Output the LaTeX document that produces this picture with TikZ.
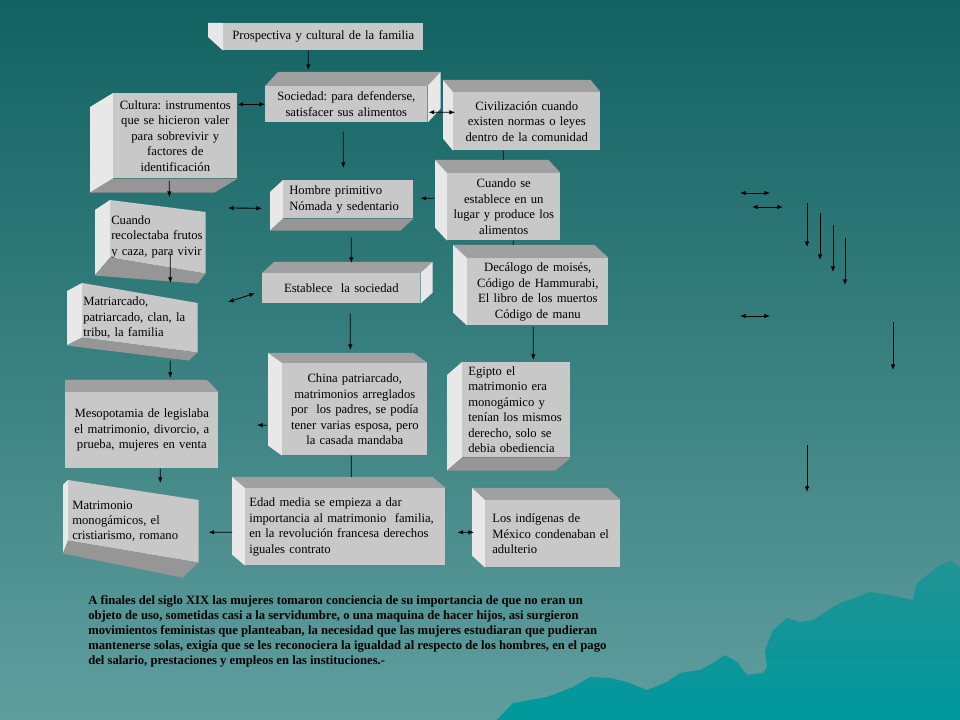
\documentclass[tikz,border=0pt]{standalone}
\usepackage{fontspec}
\setmainfont{Liberation Serif}
\usetikzlibrary{arrows.meta}
\frenchspacing
\hyphenpenalty=10000

\definecolor{bgtop}{RGB}{18,98,98}
\definecolor{bgbot}{RGB}{96,158,158}
\definecolor{frontgray}{RGB}{200,200,200}
\definecolor{topgray}{RGB}{160,160,160}
\definecolor{sidegray}{RGB}{232,232,232}
\definecolor{botgray}{RGB}{150,150,150}
\definecolor{hilltop}{RGB}{32,148,148}
\definecolor{hillbot}{RGB}{0,152,156}

\pgfdeclarelayer{back}
\pgfdeclarelayer{faces}
\pgfsetlayers{back,faces,main}

% sides of the 3D boxes
\newcommand{\topside}[3]{\fill[topgray] (#1.north west) -- ++(#2,#3) -- ([shift={(#2,#3)}]#1.north east) -- (#1.north east) -- cycle;}
\newcommand{\botside}[3]{\fill[botgray] (#1.south west) -- ++(#2,#3) -- ([shift={(#2,#3)}]#1.south east) -- (#1.south east) -- cycle;}
\newcommand{\leftside}[3]{\fill[sidegray] (#1.north west) -- ++(#2,#3) -- ([shift={(#2,#3)}]#1.south west) -- (#1.south west) -- cycle;}
\newcommand{\rightside}[3]{\fill[sidegray] (#1.north east) -- ++(#2,#3) -- ([shift={(#2,#3)}]#1.south east) -- (#1.south east) -- cycle;}

\begin{document}
\begin{tikzpicture}[
    x=0.025cm, y=-0.025cm,
    box/.style={fill=frontgray, anchor=north west, inner xsep=0.075cm, inner ysep=0pt, align=center, font=\fontsize{9}{11}\selectfont},
    lbox/.style={box, align=left},
    note/.style={anchor=north west, align=left, inner sep=0pt, font=\bfseries\fontsize{9}{10.7}\selectfont},
    arrow/.style={-{Latex[length=4pt,width=3.2pt]}, line width=0.6pt},
    both/.style={{Latex[length=4pt,width=3.2pt]}-{Latex[length=4pt,width=3.2pt]}, line width=0.6pt},
    link/.style={line width=0.6pt},
]
    \useasboundingbox (0,0) rectangle (960,720);

    % background and hills
    \begin{pgfonlayer}{back}
        \shade[top color=bgtop, bottom color=bgbot] (0,0) rectangle (960,720);
        \shade[top color=hilltop, bottom color=hillbot] (497,720) -- (513,703) -- (547,697) -- (573,687) -- (590,677) -- (610,678) -- (627,682) -- (647,690) -- (667,682) -- (680,673) -- (700,670) -- (713,663) -- (725,655) -- (737,662) -- (747,675) -- (763,673) -- (767,667) -- (765,650) -- (773,630) -- (787,618) -- (800,622) -- (813,620) -- (833,607) -- (843,602) -- (870,592) -- (890,595) -- (913,600) -- (917,583) -- (940,565) -- (950,561) -- (960,567) -- (960,720) -- cycle;
    \end{pgfonlayer}

    \node[box, text width=4.85cm, minimum height=0.675cm] (prosp) at (223,23) {Prospectiva y cultural de la familia};
    \node[box, text width=3.9cm, minimum height=0.9cm] (soc) at (265,86) {Sociedad: para defenderse,\\ satisfacer sus alimentos};
    \node[box, text width=2.95cm, minimum height=2.125cm] (cult) at (113,93) {Cultura: instrumentos\\ que se hicieron valer\\ para sobrevivir y\\ factores de\\ identificación};
    \node[box, text width=3.525cm, minimum height=1.45cm] (civ) at (453,92) {Civilización cuando\\ existen normas o leyes\\ dentro de la comunidad};
    \node[lbox, inner xsep=0.15cm, text width=2.95cm, minimum height=0.95cm] (hom) at (283,180) {Hombre primitivo\\ Nómada y sedentario};
    \node[box, text width=2.675cm, minimum height=1.675cm] (lugar) at (447,173) {Cuando se\\ establece en un\\ lugar y produce los\\ alimentos};
    \node[lbox, fill=none, inner xsep=0.025cm, text width=2.325cm, minimum height=1.825cm] (rec) at (110,200) {Cuando\\ recolectaba frutos\\ y caza, para vivir};
    \node[lbox, fill=none, inner xsep=0.025cm, text width=2.825cm, minimum height=1.725cm] (mat) at (82,283) {Matriarcado,\\ patriarcado, clan, la\\ tribu, la familia};
    \node[box, text width=3.375cm, minimum height=1.675cm] (dec) at (467,258) {Decálogo de moisés,\\ Código de Hammurabi,\\ El libro de los muertos\\ Código de manu};
    \node[box, text width=3.8cm, minimum height=0.75cm] (establece) at (262,273) {Establece\ \ la sociedad};
    \node[box, text width=3.475cm, minimum height=2.3cm] (china) at (282,363) {China patriarcado,\\ matrimonios arreglados\\ por\ \ los padres, se podía\\ tener varias esposa, pero\\ la casada mandaba};
    \node[lbox, inner xsep=0.15cm, text width=2.4cm, minimum height=2.375cm] (egipto) at (462,362) {Egipto el\\ matrimonio era\\ monogámico y\\ tenían los mismos\\ derecho, solo se\\ debia obediencia};
    \node[box, text width=3.675cm, minimum height=1.9cm] (meso) at (65,392) {Mesopotamia de legislaba\\ el matrimonio, divorcio, a\\ prueba, mujeres en venta\\[4pt]};
    \node[lbox, fill=none, inner xsep=0.1cm, text width=3.05cm, minimum height=2.05cm] (matr) at (68,480) {Matrimonio\\ monogámicos, el\\ cristiarismo, romano};
    \node[lbox, inner xsep=0.1cm, text width=4.8cm, minimum height=1.925cm] (edad) at (245,488) {Edad media se empieza a dar\\ importancia al matrimonio\ \ familia,\\ en la revolución francesa derechos\\ iguales contrato};
    \node[lbox, inner xsep=0.175cm, text width=3.025cm, minimum height=1.675cm] (indigenas) at (485,500) {Los indígenas de\\ México condenaban el\\ adulterio};

    % depth of the boxes
    \begin{pgfonlayer}{faces}
        \fill[sidegray] (prosp.north west) -- ++(-15,0) -- ++(0,14) -- (prosp.south west) -- cycle;
        \topside{soc}{13}{-14} \rightside{soc}{13}{-14}
        \leftside{cult}{-23}{14} \botside{cult}{-23}{14}
        \topside{civ}{-10}{-12} \leftside{civ}{-10}{-12}
        \leftside{hom}{-13}{12} \botside{hom}{-13}{12}
        \topside{lugar}{-12}{-13} \leftside{lugar}{-12}{-13}
        \topside{dec}{-14}{-13} \leftside{dec}{-14}{-13}
        \topside{establece}{12}{-11} \rightside{establece}{12}{-11}
        \topside{china}{-14}{-10} \leftside{china}{-14}{-10}
        \leftside{egipto}{-15}{13} \botside{egipto}{-15}{13}
        \fill[topgray] (meso.north west) -- ++(0,-12) -- ++(142,0) -- (meso.north east) -- cycle;
        \topside{edad}{-13}{-11} \leftside{edad}{-13}{-11}
        \topside{indigenas}{-13}{-12} \leftside{indigenas}{-13}{-12}
        % tilted boxes
        \fill[frontgray] (rec.north west) -- ([shift={(0,12)}]rec.north east) -- (rec.south east) -- ([shift={(0,-16)}]rec.south west) -- cycle;
        \fill[sidegray] (rec.north west) -- ++(-15,10) -- ++(0,65) -- ([shift={(0,-16)}]rec.south west) -- cycle;
        \fill[botgray] ([shift={(0,-16)}]rec.south west) -- (rec.south east) -- ++(-8,10) -- ([shift={(-15,2)}]rec.south west) -- cycle;
        \fill[frontgray] (mat.north west) -- ([shift={(0,20)}]mat.north east) -- (mat.south east) -- ([shift={(0,-15)}]mat.south west) -- cycle;
        \fill[sidegray] (mat.north west) -- ++(-15,8) -- ++(0,54) -- ([shift={(0,-15)}]mat.south west) -- cycle;
        \fill[botgray] ([shift={(0,-15)}]mat.south west) -- (mat.south east) -- ++(-9,8) -- ([shift={(-15,-7)}]mat.south west) -- cycle;
        \fill[frontgray] (matr.north west) -- ([shift={(0,20)}]matr.north east) -- (matr.south east) -- ([shift={(0,-22)}]matr.south west) -- cycle;
        \fill[sidegray] (matr.north west) -- ++(-5,5) -- ++(0,68) -- ([shift={(0,-22)}]matr.south west) -- cycle;
        \fill[botgray] ([shift={(0,-22)}]matr.south west) -- (matr.south east) -- ++(-16,15) -- ([shift={(-5,-9)}]matr.south west) -- cycle;
    \end{pgfonlayer}

    \coordinate (homfree) at (228,208);
    \coordinate (estfree) at (228,302);
    \coordinate (chinafree) at (257,425);

    \draw[arrow] ([shift={(-15,0)}]prosp.south) -- ([shift={(-38,-16)}]soc.north);
    \draw[both] (cult.east |- soc.west) -- (soc.west);
    \draw[both] ([shift={(1,8)}]soc.east) -- ([shift={(2,-9)}]civ.west);
    \draw[arrow] ([shift={(-3,9)}]soc.south) -- ([shift={(-5,-12)}]hom.north);
    \draw[arrow] ([shift={(-6,2)}]cult.south) -- ([shift={(11.5,-3)}]rec.north);
    \draw[arrow] ([shift={(12.5,-20)}]rec.south) -- ([shift={(30.5,0)}]mat.north);
    \draw[arrow] ([shift={(30.5,8)}]mat.south) -- ([shift={(28.5,-14)}]meso.north);
    \draw[arrow] ([shift={(18.5,0)}]meso.south) -- ([shift={(27,3)}]matr.north);
    \draw[both] (homfree) -- ([shift={(-21,9)}]hom.west);
    \draw[arrow] ([shift={(-13,-8.5)}]lugar.west) -- ([shift={(7,-1)}]hom.east);
    \draw[link] ([shift={(-23.5,0)}]civ.south) -- ([shift={(-0.5,-13)}]lugar.north);
    \draw[link] ([shift={(9.5,0)}]lugar.south) -- ([shift={(-24.5,-13)}]dec.north);
    \draw[arrow] ([shift={(3,19)}]hom.south) -- ([shift={(10,-10)}]establece.north);
    \draw[both] (estfree) -- ([shift={(-7,5)}]establece.west);
    \draw[arrow] ([shift={(9,10)}]establece.south) -- ([shift={(-4.5,-13)}]china.north);
    \draw[arrow] ([shift={(-15,16)}]china.west) -- (chinafree);
    \draw[arrow] ([shift={(-4.5,1)}]dec.south) -- ([shift={(17,-2)}]egipto.north);
    \draw[link] ([shift={(-3.5,0)}]china.south) -- ([shift={(6,-11)}]edad.north);
    \draw[arrow] ([shift={(-13,5.5)}]edad.west) -- ([shift={(10,11)}]matr.east);
    \draw[both] ([shift={(12,5.5)}]edad.east) -- ([shift={(-11,-1.5)}]indigenas.west);

    % loose arrows on the right
    \foreach \n/\xa/\ya/\xb in {1/740/193/770, 2/752/207/783, 3/740/316/770} {
        \coordinate (h\n a) at (\xa,\ya);
        \coordinate (h\n b) at (\xb,\ya);
        \draw[both] (h\n a) -- (h\n b);
    }
    \foreach \n/\xa/\ya/\yb in {1/807/203/247, 2/820/213/260, 3/833/225/272, 4/845/238/285, 5/893/322/370, 6/807/445/492} {
        \coordinate (v\n a) at (\xa,\ya);
        \coordinate (v\n b) at (\xa,\yb);
        \draw[arrow] (v\n a) -- (v\n b);
    }

    \node[note] (nota) at (88,595) {A finales del siglo XIX las mujeres tomaron conciencia de su importancia de que no eran un\\ objeto de uso, sometidas casi a la servidumbre, o una maquina de hacer hijos, asi surgieron\\ movimientos feministas que planteaban, la necesidad que las mujeres estudiaran que pudieran\\ mantenerse solas, exigía que se les reconociera la igualdad al respecto de los hombres, en el pago\\ del salario, prestaciones y empleos en las instituciones.-};
\end{tikzpicture}
\end{document}
